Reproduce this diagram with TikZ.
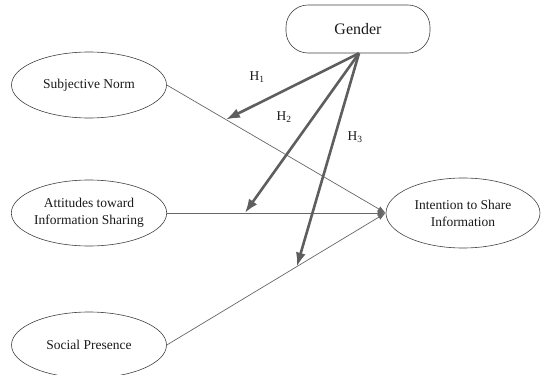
\documentclass[tikz,border=0pt]{standalone}
\usepackage{fontspec}
\setmainfont{Liberation Serif}
\usetikzlibrary{arrows.meta,shapes.geometric,calc}
\definecolor{EdgeGray}{HTML}{404040}
\definecolor{LinkGray}{HTML}{666666}
\definecolor{HypGray}{HTML}{5E5E5E}
\definecolor{BodyText}{HTML}{1A1A1A}

\tikzset{
  construct/.style={ellipse,draw=EdgeGray,line width=0.6pt,inner sep=0pt,
    minimum width=155pt,minimum height=66pt,align=center,
    font=\fontsize{13.5}{17}\selectfont,text=BodyText},
  link/.style={draw=LinkGray,line width=0.7pt,-{Latex[length=8pt,width=6pt]}},
  hyp/.style={draw=HypGray,line width=2.6pt,-{Latex[length=14pt,width=10pt]}},
  hlabel/.style={font=\fontsize{13.5}{16}\selectfont,text=BodyText}
}

\begin{document}
\begin{tikzpicture}[x=1pt,y=-1pt]
  \useasboundingbox (0,0) rectangle (542,375);

  \node[draw=EdgeGray,line width=0.6pt,rounded corners=22pt,
    minimum width=144pt,minimum height=48pt,
    font=\fontsize{16}{19}\selectfont,text=BodyText]
    (gender) at (358,29) {Gender};

  \node[construct] (subj) at (89,85) {Subjective Norm};
  \node[construct] (attit) at (89,213) {Attitudes toward\\Information Sharing};
  \node[construct] (social) at (89,345) {Social Presence};
  \node[construct,minimum width=154pt,minimum height=70pt]
    (intent) at (463,213) {Intention to Share\\Information};

  % direct paths
  \draw[link] (subj.east) -- (intent.west);
  \draw[link] (attit.east) -- (intent.west);
  \draw[link] (social.east) -- (intent.west);

  % moderation by gender
  \coordinate (m1) at ($(subj.east)!0.27!(intent.west)$);
  \coordinate (m2) at ($(attit.east)!0.356!(intent.west)$);
  \coordinate (m3) at ($(social.east)!0.594!(intent.west)$);
  \foreach \m in {m1,m2,m3} {
    \draw[hyp] ([xshift=1pt]gender.south) -- (\m);
  }

  \node[hlabel] (h1lbl) at (257,77) {H\textsubscript{1}};
  \node[hlabel] (h2lbl) at (284,117) {H\textsubscript{2}};
  \node[hlabel] (h3lbl) at (355,137) {H\textsubscript{3}};
\end{tikzpicture}
\end{document}
